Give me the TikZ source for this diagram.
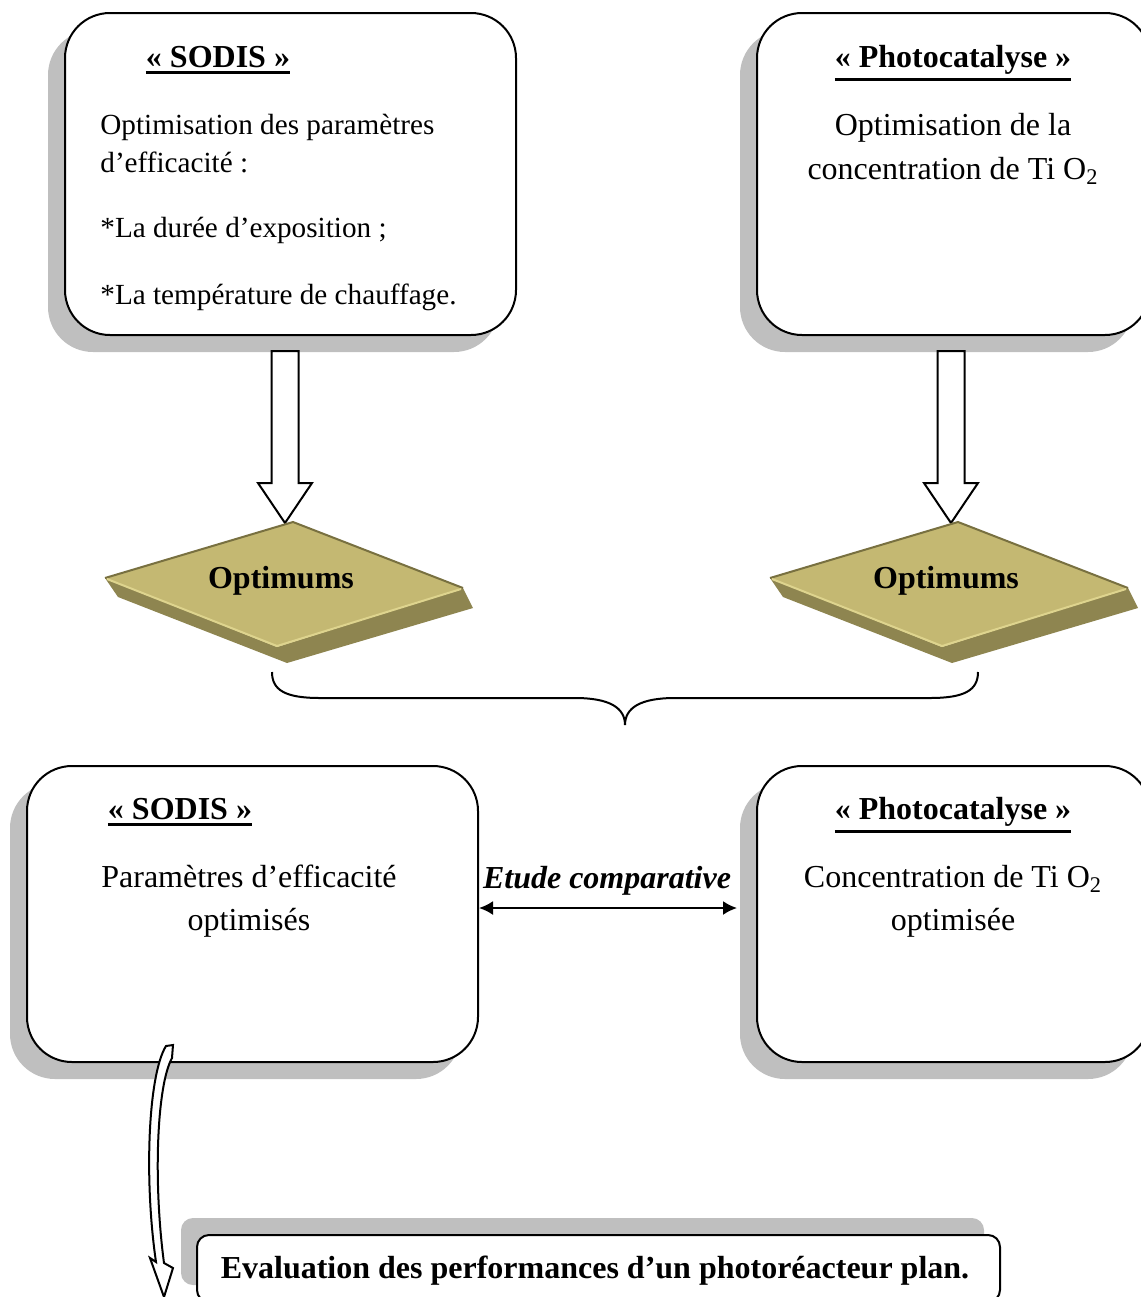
\documentclass[tikz,border=0pt]{standalone}
\usepackage{fontspec}
\setmainfont{Liberation Serif}
\usetikzlibrary{shadows,arrows.meta,calc}

\definecolor{optface}{RGB}{196,184,114}
\definecolor{optside}{RGB}{142,133,80}
\definecolor{optline}{RGB}{120,112,64}
\definecolor{opthigh}{RGB}{222,212,142}

\newcommand{\ultitle}[1]{\vtop{\hbox{\bfseries #1}\kern2pt\hrule height 1.4pt}}

\tikzset{
  roundbox/.style={draw, line width=1pt, fill=white, rounded corners=22.5pt, inner sep=0pt,
    drop shadow={shadow xshift=-8.5pt, shadow yshift=-8.5pt, fill=black!25, opacity=1}},
  evalbox/.style={draw, line width=1pt, fill=white, rounded corners=6pt, inner sep=0pt,
    drop shadow={shadow xshift=-8pt, shadow yshift=8.5pt, fill=black!25, opacity=1}},
  titletext/.style={anchor=base, inner sep=0pt},
  bodytext/.style={anchor=base, inner sep=0pt, align=center},
  downarrow/.pic={
    \draw[line width=1pt, fill=white] (-13.5,0) -- (-13.5,132) -- (-27,132) -- (0,172)
      -- (27,132) -- (13.5,132) -- (13.5,0) -- cycle;
  },
  optimum/.pic={
    \fill[optside] (-188,56) -- (-175,75) -- (-6,141) -- (180,86) -- (170,66) -- (-16,125) -- cycle;
    \fill[optface] (0,0) -- (-188,56) -- (-16,125) -- (170,66) -- cycle;
    \draw[optline, line width=1pt] (-188,56) -- (0,0) -- (170,66);
    \draw[opthigh, line width=1pt] (-186,57) -- (-16,124) -- (168,67);
    \node[font=\fontsize{16}{19}\selectfont\bfseries, inner sep=0pt] (-txt) at (-12,59) {Optimums};
  }
}

\begin{document}
\begin{tikzpicture}[x=0.5pt, y=-0.5pt, font=\fontsize{16}{19}\selectfont]
\useasboundingbox (0,0) rectangle (1141,1297);

% boites du haut
\node[roundbox, minimum width=225.5pt, minimum height=161pt] (topsodis) at (290.5,174) {};
\node[roundbox, minimum width=196.5pt, minimum height=161pt] (topphoto) at (953.5,174) {};

\node[titletext] (topsodistitle) at (218,67) {\ultitle{« SODIS »}};
\node[anchor=base west, inner sep=0pt, align=left, font=\fontsize{14.6}{19}\selectfont] (topsodistext) at (100,304)
  {Optimisation des paramètres\\ d’efficacité :\\[13.5pt] *La durée d’exposition ;\\[14.5pt] *La température de chauffage.};

\node[titletext] (topphototitle) at (953,67) {\ultitle{« Photocatalyse »}};
\node[bodytext, font=\fontsize{16}{22}\selectfont] (topphototext) at (953,179)
  {Optimisation de la\\ concentration de Ti O\textsubscript{2}};

% fleches vers les optimums
\pic at ($(topsodis.south)+(-5.5,15)$) {downarrow};
\pic at ($(topphoto.south)+(-2.5,15)$) {downarrow};

\pic (optsodis) at (293,522) {optimum};
\pic (optphoto) at (958,522) {optimum};

% accolade
\draw[line width=1pt] (272,672) .. controls (272,690) and (285,698) .. (320,698) -- (575,698)
  .. controls (610,698) and (625,708) .. (625,725) .. controls (625,708) and (640,698) .. (675,698)
  -- (930,698) .. controls (965,698) and (978,690) .. (978,672);

% boites du bas
\node[roundbox, minimum width=225.5pt, minimum height=148pt] (botsodis) at (252.5,914) {};
\node[roundbox, minimum width=196.5pt, minimum height=148pt] (botphoto) at (953.5,914) {};

\node[titletext] (botsodistitle) at (180,819) {\ultitle{« SODIS »}};
\node[bodytext, font=\fontsize{16}{21.5}\selectfont] (botsodistext) at (249,930)
  {Paramètres d’efficacité\\ optimisés};

\node[titletext] (botphototitle) at (953,819) {\ultitle{« Photocatalyse »}};
\node[bodytext, font=\fontsize{16}{21.5}\selectfont] (botphototext) at (953,930)
  {Concentration de Ti O\textsubscript{2}\\ optimisée};

% comparaison
\draw[line width=1pt, {Latex[length=7pt,width=7pt]}-{Latex[length=7pt,width=7pt]}]
  ($(botsodis.east)+(0,-6)$) -- ($(botphoto.west)+(-19,-6)$);
\node[titletext, font=\fontsize{16}{19}\selectfont\bfseries\itshape] (compare) at (607,888) {Etude comparative};

% evaluation
\node[evalbox, minimum width=401.5pt, minimum height=33.5pt] (eval) at (598.5,1268.5) {};
\node[titletext, font=\fontsize{16}{19}\selectfont\bfseries] (evaltext) at (595,1278)
  {Evaluation des performances d’un photoréacteur plan.};

% fleche courbe
\draw[line width=1pt, fill=white] (166,1046) .. controls (148,1075) and (144,1180) .. (156,1262)
  -- (150,1258) -- (164,1297) -- (173,1268) -- (164,1263)
  .. controls (153,1180) and (157,1085) .. (172,1058) -- (173,1045) -- cycle;
\end{tikzpicture}
\end{document}
